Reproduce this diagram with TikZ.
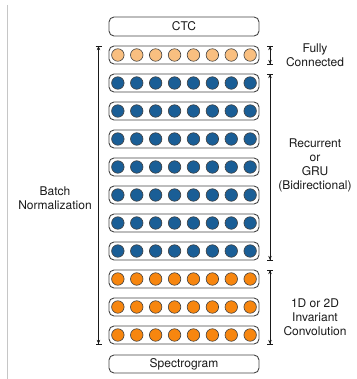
\documentclass[tikz,border=0pt]{standalone}
\usepackage{fontspec}
\setmainfont{TeX Gyre Heros}
\usetikzlibrary{positioning}
\usetikzlibrary{arrows.meta,calc}
\definecolor{lightorange}{HTML}{F9BF80}
\definecolor{deepblue}{HTML}{1A5E96}
\definecolor{deeporange}{HTML}{F7860F}
\definecolor{boxline}{HTML}{444444}
\tikzstyle{layer}=[draw=boxline,line width=0.9pt,rounded corners=5pt,minimum width=150pt,minimum height=18pt,inner sep=0pt]
\tikzstyle{endbox}=[layer,font=\fontsize{12}{14}\selectfont,text=black!90]
\tikzstyle{unit}=[circle,draw=black!75,line width=0.6pt,minimum size=12.5pt,inner sep=0pt]
\tikzstyle{span} = [draw=black!90,line width=0.6pt,{Bar[width=6pt]Stealth[length=4pt,width=3.5pt]}-{Stealth[length=4pt,width=3.5pt]Bar[width=6pt]}]
\tikzstyle{label} = [align=center,font=\fontsize{12}{14}\selectfont,text=black!90]

\begin{document}
\begin{tikzpicture}[x=1pt,y=-1pt]
   \useasboundingbox (0,0) rectangle (356,379);
   \draw[gray!45, line width=1pt] (7.5,5) -- (7.5,379);

   \node[endbox,minimum height=19pt] (ctc) at (184,26.5) {CTC};
   \node[endbox] (spec) at (184,364) {Spectrogram};

    % layers, top to bottom: fully connected, recurrent, conv
    \foreach \i/\col in {1/lightorange, 2/deepblue, 3/deepblue, 4/deepblue, 5/deepblue, 6/deepblue, 7/deepblue, 8/deepblue, 9/deeporange, 10/deeporange, 11/deeporange}
    {
        \node[layer] (r\i) at (184,{27+28*\i}) {};
        \foreach \j in {1,...,8}
            \node[unit,fill=\col] (c\i-\j) at ({184+(\j-4.5)*18.9},{27+28*\i}) {};
    }

   \coordinate (lx) at (98.5,0);
   \coordinate (rx) at (270,0);

    \foreach \source/\dest in {r1.north/r11.south}
            \path[span] (\source -| lx) -- (\dest -| lx);
    \foreach \source/\dest in {r1.north/r1.south, r2.north/r8.south, r9.north/r11.south}
            \path[span] (\source -| rx) -- (\dest -| rx);

   \node[label] (fc) at (315,55) {Fully\\Connected};
   \node[label] (rnn) at (315,165) {Recurrent\\or\\GRU\\(Bidirectional)};
   \node[label] (conv) at (315,317) {1D or 2D\\Invariant\\Convolution};
   \node[label] (bn) at (55,198.5) {Batch\\Normalization};
\end{tikzpicture}
\end{document}
